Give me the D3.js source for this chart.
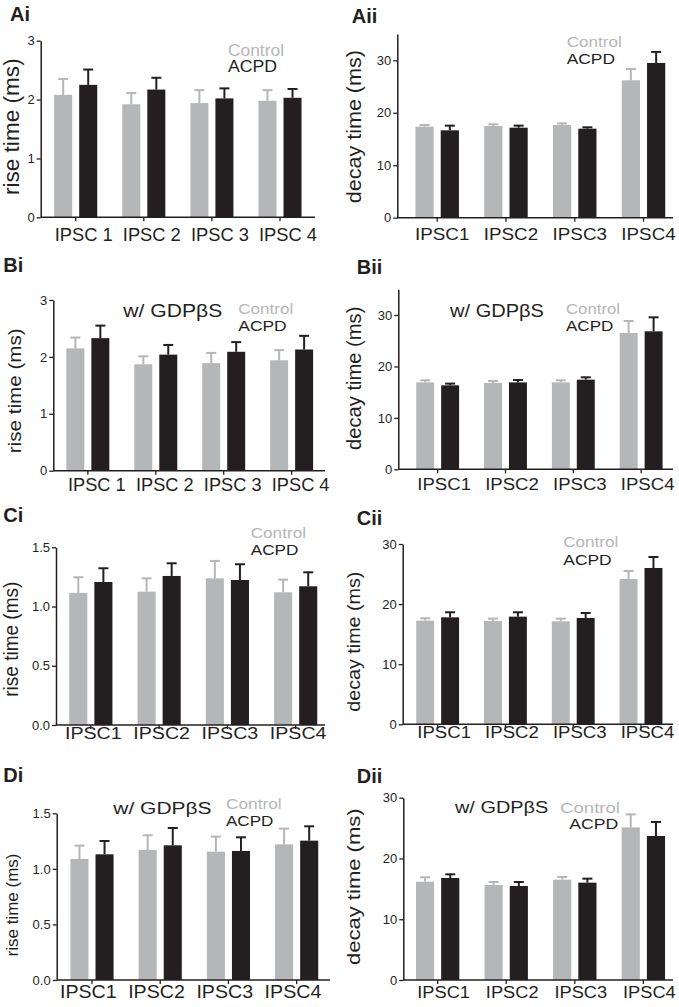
<!DOCTYPE html>
<html><head><meta charset="utf-8">
<script src="https://cdn.jsdelivr.net/npm/d3@7/dist/d3.min.js"></script>
<style>
html,body{margin:0;padding:0;background:#fff;}
svg{display:block;font-family:"Liberation Sans",Arial,Helvetica,sans-serif;}
</style></head>
<body>
<svg id="chart" width="679" height="1007"></svg>
<script>
// ---------- data ----------
const series = ["Control", "ACPD"];
const catsSpaced = ["IPSC 1", "IPSC 2", "IPSC 3", "IPSC 4"];
const cats = ["IPSC1", "IPSC2", "IPSC3", "IPSC4"];
const riseTicks = [0, 1, 2, 3];
const riseTicksC = [0, 0.5, 1.0, 1.5];
const decayTicks = [0, 10, 20, 30];

const aiControl = [2.08, 1.92, 1.94, 1.98];
const aiControlErr = [0.27, 0.19, 0.22, 0.18];
const aiAcpd = [2.25, 2.17, 2.02, 2.03];
const aiAcpdErr = [0.26, 0.20, 0.17, 0.15];

const aiiControl = [17.36, 17.48, 17.67, 26.19];
const aiiControlErr = [0.31, 0.32, 0.32, 2.16];
const aiiAcpd = [16.66, 17.16, 16.97, 29.5];
const aiiAcpdErr = [0.89, 0.39, 0.26, 2.1];

const biControl = [2.15, 1.87, 1.89, 1.94];
const biControlErr = [0.19, 0.14, 0.18, 0.18];
const biAcpd = [2.33, 2.04, 2.09, 2.13];
const biAcpdErr = [0.22, 0.17, 0.17, 0.24];

const biiControl = [16.9, 16.79, 16.9, 26.5];
const biiControlErr = [0.4, 0.38, 0.4, 2.34];
const biiAcpd = [16.33, 16.9, 17.43, 26.83];
const biiAcpdErr = [0.33, 0.47, 0.46, 2.72];

const ciControl = [1.115, 1.126, 1.238, 1.12];
const ciControlErr = [0.132, 0.112, 0.147, 0.107];
const ciAcpd = [1.207, 1.258, 1.224, 1.171];
const ciAcpdErr = [0.116, 0.107, 0.133, 0.118];

const ciiControl = [17.25, 17.19, 17.14, 24.18];
const ciiControlErr = [0.39, 0.39, 0.44, 1.33];
const ciiAcpd = [17.8, 17.91, 17.69, 26.01];
const ciiAcpdErr = [0.84, 0.73, 0.83, 1.83];

const diControl = [1.089, 1.17, 1.155, 1.221];
const diControlErr = [0.12, 0.132, 0.135, 0.141];
const diAcpd = [1.131, 1.212, 1.161, 1.254];
const diAcpdErr = [0.12, 0.156, 0.123, 0.129];

const diiControl = [16.18, 15.63, 16.51, 25.12];
const diiControlErr = [0.72, 0.5, 0.44, 2.14];
const diiAcpd = [16.79, 15.47, 16.02, 23.7];
const diiAcpdErr = [0.6, 0.66, 0.66, 2.3];

// ---------- layout ----------
const GRAY = "#b5b6b8", BLACK = "#231f20";
const panels = [
 {title:"Ai", tx:10, ty:21, cats:catsSpaced, ctrl:aiControl, ctrlE:aiControlErr, acpd:aiAcpd, acpdE:aiAcpdErr,
  dom:[0,3], ticks:riseTicks, fmt:d3.format("d"), y0:217.3, y1:40.7, ax:40.7, axEnd:315, bx0:41.65, bx1:314.05,
  ylab:"rise time (ms)", ylx:18.9, yly:126.7, ylfs:21.3, yll:136.7, xlfs:18.6, xlw:58, xlb:240.7, xldx:8,
  leg:[228,55.7,228,71.7], legfs:16.5, legw:[56,49], gdp:null},
 {title:"Aii", tx:351.7, ty:22.7, cats:cats, ctrl:aiiControl, ctrlE:aiiControlErr, acpd:aiiAcpd, acpdE:aiiAcpdErr,
  dom:[0,35], ticks:decayTicks, fmt:d3.format("d"), y0:217.7, y1:34.1, ax:397.3, axEnd:673, bx0:402.8, bx1:677.9,
  ylab:"decay time (ms)", ylx:360.9, yly:126.7, ylfs:19.5, yll:153.3, xlfs:16.5, xlw:54.3, xlb:240, xldx:5,
  leg:[566.7,46.7,566.7,64], legfs:15.5, legw:[55,48.3], gdp:null},
 {title:"Bi", tx:3.3, ty:271.7, cats:catsSpaced, ctrl:biControl, ctrlE:biControlErr, acpd:biAcpd, acpdE:biAcpdErr,
  dom:[0,3], ticks:riseTicks, fmt:d3.format("d"), y0:470.7, y1:300, ax:53.3, axEnd:325, bx0:53.9, bx1:325.6,
  ylab:"rise time (ms)", ylx:21.3, yly:390.8, ylfs:17.8, yll:125, xlfs:18.6, xlw:57.7, xlb:490.7, xldx:9,
  leg:[238.3,314.3,238.3,331], legfs:15.5, legw:[55,48.3], gdp:[123.3,316.7,18.6,99]},
 {title:"Bii", tx:356.7, ty:274, cats:cats, ctrl:biiControl, ctrlE:biiControlErr, acpd:biiAcpd, acpdE:biiAcpdErr,
  dom:[0,35], ticks:decayTicks, fmt:d3.format("d"), y0:469.3, y1:289.3, ax:398.3, axEnd:673, bx0:403.75, bx1:675.05,
  ylab:"decay time (ms)", ylx:360.9, yly:378.3, ylfs:19.5, yll:143.3, xlfs:17.2, xlw:53.7, xlb:490, xldx:6.5,
  leg:[566,314.3,566,331], legfs:15.5, legw:[54,47.3], gdp:[450,316.7,18.6,94]},
 {title:"Ci", tx:3.3, ty:521.7, cats:cats, ctrl:ciControl, ctrlE:ciControlErr, acpd:ciAcpd, acpdE:ciAcpdErr,
  dom:[0,1.5], ticks:riseTicksC, fmt:d3.format(".1f"), y0:725, y1:547.3, ax:56, axEnd:325, bx0:56.7, bx1:329.8,
  ylab:"rise time (ms)", ylx:17.5, yly:639.2, ylfs:19.5, yll:115, xlfs:16.8, xlw:56.7, xlb:739.3, xldx:2.5,
  leg:[250.7,538.3,250.7,555], legfs:15.5, legw:[55.3,47.7], gdp:null},
 {title:"Cii", tx:356.7, ty:525, cats:cats, ctrl:ciiControl, ctrlE:ciiControlErr, acpd:ciiAcpd, acpdE:ciiAcpdErr,
  dom:[0,30], ticks:decayTicks, fmt:d3.format("d"), y0:724.3, y1:544, ax:402.7, axEnd:673, bx0:403.75, bx1:674.9,
  ylab:"decay time (ms)", ylx:359.7, yly:641.7, ylfs:17.8, yll:140, xlfs:16.3, xlw:53.7, xlb:738.3, xldx:6.5,
  leg:[563.3,547.3,563.3,565], legfs:15.5, legw:[55,48.3], gdp:null},
 {title:"Di", tx:3.3, ty:781.7, cats:cats, ctrl:diControl, ctrlE:diControlErr, acpd:diAcpd, acpdE:diAcpdErr,
  dom:[0,1.5], ticks:riseTicksC, fmt:d3.format(".1f"), y0:980, y1:813.3, ax:56.7, axEnd:330, bx0:57.9, bx1:330.75,
  ylab:"rise time (ms)", ylx:18.4, yly:905, ylfs:16, yll:103, xlfs:17.7, xlw:56.7, xlb:997.7, xldx:-3.7,
  leg:[226,809.3,226,826], legfs:15.5, legw:[55.7,47.3], gdp:[113.3,814.3,17.2,98.3]},
 {title:"Dii", tx:356.7, ty:783.3, cats:cats, ctrl:diiControl, ctrlE:diiControlErr, acpd:diiAcpd, acpdE:diiAcpdErr,
  dom:[0,30], ticks:decayTicks, fmt:d3.format("d"), y0:980, y1:797.7, ax:403.3, axEnd:673, bx0:403.35, bx1:677.65,
  ylab:"decay time (ms)", ylx:359.7, yly:886.7, ylfs:17.8, yll:156.7, xlfs:16.8, xlw:52.7, xlb:998.3, xldx:6,
  leg:[560,812.8,569.3,829], legfs:15, legw:[60,49], gdp:[455,813.3,17.2,93.3]}
];

const svg = d3.select("#chart");

panels.forEach(p => {
  const g = svg.append("g");
  const x = d3.scaleBand().domain(p.cats).range([p.bx0, p.bx1]).paddingInner(0).paddingOuter(0);
  const inner = d3.scaleBand().domain(series).range([0, x.bandwidth()]).paddingInner(0.28).paddingOuter(0.5);
  const y = d3.scaleLinear().domain(p.dom).range([p.y0, p.y1]);

  const rows = p.cats.map((c, i) => [
    {cat:c, s:"Control", v:p.ctrl[i], e:p.ctrlE[i], col:GRAY},
    {cat:c, s:"ACPD", v:p.acpd[i], e:p.acpdE[i], col:BLACK}
  ]).flat();

  const cx = d => x(d.cat) + inner(d.s) + inner.bandwidth()/2;
  const eb = g.selectAll(".eb").data(rows).join("g");
  eb.append("line")
    .attr("x1", cx).attr("x2", cx)
    .attr("y1", d => y(d.v)).attr("y2", d => y(d.v + d.e))
    .attr("stroke", d => d.col).attr("stroke-width", 2);
  eb.append("line")
    .attr("x1", d => cx(d) - 5).attr("x2", d => cx(d) + 5)
    .attr("y1", d => y(d.v + d.e)).attr("y2", d => y(d.v + d.e))
    .attr("stroke", d => d.col).attr("stroke-width", 2);

  g.selectAll(".bar").data(rows).join("rect")
    .attr("x", d => x(d.cat) + inner(d.s))
    .attr("width", inner.bandwidth())
    .attr("y", d => y(d.v))
    .attr("height", d => y(0) - y(d.v))
    .attr("fill", d => d.col);

  // y axis
  const ya = g.append("g").attr("transform", `translate(${p.ax},0)`)
    .call(d3.axisLeft(y).tickValues(p.ticks).tickFormat(p.fmt).tickSize(4).tickPadding(2).tickSizeOuter(0));
  ya.select(".domain").attr("stroke", BLACK).attr("stroke-width", 1.5);
  ya.selectAll(".tick line").attr("stroke", BLACK).attr("stroke-width", 1.3);
  ya.selectAll(".tick text").attr("font-size", 13).attr("fill", BLACK)
    .attr("font-family", "Liberation Sans, Arial, sans-serif");

  // x axis
  const xa = g.append("g").attr("transform", `translate(0,${p.y0})`)
    .call(d3.axisBottom(x).tickSize(4).tickSizeOuter(0));
  xa.select(".domain").remove();
  xa.selectAll(".tick line").attr("stroke", BLACK).attr("stroke-width", 1.3);
  xa.selectAll(".tick text").attr("font-size", p.xlfs).attr("fill", BLACK)
    .attr("font-family", "Liberation Sans, Arial, sans-serif")
    .attr("y", p.xlb - p.y0).attr("dy", 0).attr("dx", p.xldx)
    .attr("textLength", p.xlw).attr("lengthAdjust", "spacingAndGlyphs");
  g.append("line").attr("x1", p.ax).attr("x2", p.axEnd).attr("y1", p.y0).attr("y2", p.y0)
    .attr("stroke", BLACK).attr("stroke-width", 1.5);

  // y label
  g.append("text").attr("transform", `translate(${p.ylx},${p.yly}) rotate(-90)`)
    .attr("text-anchor", "middle").attr("font-size", p.ylfs).attr("fill", BLACK)
    .attr("textLength", p.yll).attr("lengthAdjust", "spacingAndGlyphs").text(p.ylab);

  // title
  g.append("text").attr("x", p.tx).attr("y", p.ty).attr("font-size", 20).attr("font-weight", "bold")
    .attr("fill", BLACK).text(p.title);

  // legend
  g.append("text").attr("x", p.leg[0]).attr("y", p.leg[1]).attr("font-size", p.legfs).attr("fill", GRAY)
    .attr("textLength", p.legw[0]).attr("lengthAdjust", "spacingAndGlyphs").text(series[0]);
  g.append("text").attr("x", p.leg[2]).attr("y", p.leg[3]).attr("font-size", p.legfs).attr("fill", BLACK)
    .attr("textLength", p.legw[1]).attr("lengthAdjust", "spacingAndGlyphs").text(series[1]);

  if (p.gdp) {
    g.append("text").attr("x", p.gdp[0]).attr("y", p.gdp[1]).attr("font-size", p.gdp[2]).attr("fill", BLACK)
      .attr("textLength", p.gdp[3]).attr("lengthAdjust", "spacingAndGlyphs").text("w/ GDPβS");
  }
});
</script>
</body></html>
